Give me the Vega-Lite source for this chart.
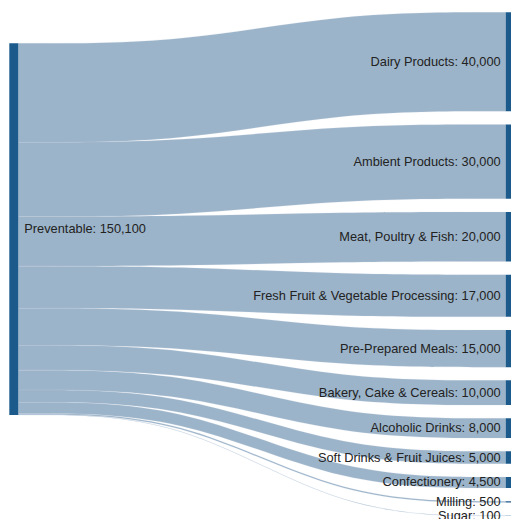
{
  "$schema": "https://vega.github.io/schema/vega-lite/v6.json",
  "width": 511,
  "height": 519,
  "padding": 0,
  "autosize": {"type": "none"},
  "config": {"view": {"stroke": null}},
  "data": {
    "values": [
      {"source": "Preventable", "target": "Dairy Products", "value": 40000},
      {"source": "Preventable", "target": "Ambient Products", "value": 30000},
      {"source": "Preventable", "target": "Meat, Poultry & Fish", "value": 20000},
      {"source": "Preventable", "target": "Fresh Fruit & Vegetable Processing", "value": 17000},
      {"source": "Preventable", "target": "Pre-Prepared Meals", "value": 15000},
      {"source": "Preventable", "target": "Bakery, Cake & Cereals", "value": 10000},
      {"source": "Preventable", "target": "Alcoholic Drinks", "value": 8000},
      {"source": "Preventable", "target": "Soft Drinks & Fruit Juices", "value": 5000},
      {"source": "Preventable", "target": "Confectionery", "value": 4500},
      {"source": "Preventable", "target": "Milling", "value": 500},
      {"source": "Preventable", "target": "Sugar", "value": 100}
    ]
  },
  "transform": [
    {"window": [{"op": "sum", "field": "value", "as": "cum"}, {"op": "row_number", "as": "idx"}], "sort": [{"field": "value", "order": "descending"}], "frame": [null, 0]},
    {"calculate": "datum.cum - datum.value + (datum.idx - 1) * 5330", "as": "t0"},
    {"calculate": "datum.cum + (datum.idx - 1) * 5330", "as": "t1"},
    {"calculate": "12520 + datum.cum - datum.value", "as": "s0"},
    {"calculate": "12520 + datum.cum", "as": "s1"}
  ],
  "layer": [
    {
      "transform": [
        {"calculate": "[0, 1, 2, 3]", "as": "k"},
        {"flatten": ["k"]},
        {"calculate": "datum.k / 3", "as": "px"},
        {"calculate": "datum.k < 2 ? datum.s0 : datum.t0", "as": "ylo"},
        {"calculate": "datum.k < 2 ? datum.s1 : datum.t1", "as": "yhi"}
      ],
      "mark": {"type": "area", "interpolate": "basis", "fill": "#9cb4c9", "fillOpacity": 1, "stroke": "#c4d3e0", "strokeWidth": 0.3, "strokeOpacity": 0.6},
      "encoding": {
        "x": {"field": "px", "type": "quantitative", "axis": null, "scale": {"domain": [-0.03755, 1.01087], "nice": false, "zero": false}},
        "y": {"field": "ylo", "type": "quantitative", "axis": null, "stack": null, "scale": {"domain": [-4968, 204645], "reverse": true, "nice": false, "zero": false}},
        "y2": {"field": "yhi"},
        "detail": {"field": "target", "type": "nominal"}
      }
    },
    {
      "transform": [
        {"calculate": "1", "as": "nx0"},
        {"calculate": "1.01847", "as": "nx1"}
      ],
      "mark": {"type": "rect", "color": "#1c5a8c"},
      "encoding": {
        "x": {"field": "nx0", "type": "quantitative"},
        "x2": {"field": "nx1"},
        "y": {"field": "t0", "type": "quantitative"},
        "y2": {"field": "t1"}
      }
    },
    {
      "transform": [
        {"aggregate": [{"op": "sum", "field": "value", "as": "total"}], "groupby": ["source"]},
        {"calculate": "12520", "as": "ly0"},
        {"calculate": "12520 + datum.total", "as": "ly1"},
        {"calculate": "-0.01847", "as": "lx0"},
        {"calculate": "0", "as": "lx1"}
      ],
      "mark": {"type": "rect", "color": "#1c5a8c"},
      "encoding": {
        "x": {"field": "lx0", "type": "quantitative"},
        "x2": {"field": "lx1"},
        "y": {"field": "ly0", "type": "quantitative"},
        "y2": {"field": "ly1"}
      }
    },
    {
      "transform": [
        {"calculate": "datum.target + ': ' + format(datum.value, ',')", "as": "label"},
        {"calculate": "(datum.t0 + datum.t1) / 2", "as": "ym"},
        {"calculate": "1", "as": "lx"}
      ],
      "mark": {"type": "text", "align": "right", "baseline": "middle", "dx": -5, "font": "Liberation Sans", "fontSize": 12.8, "color": "#222222"},
      "encoding": {
        "x": {"field": "lx", "type": "quantitative"},
        "y": {"field": "ym", "type": "quantitative"},
        "text": {"field": "label"}
      }
    },
    {
      "transform": [
        {"aggregate": [{"op": "sum", "field": "value", "as": "total"}], "groupby": ["source"]},
        {"calculate": "datum.source + ': ' + format(datum.total, ',')", "as": "label"},
        {"calculate": "12520 + datum.total / 2", "as": "ym"},
        {"calculate": "0", "as": "lx"}
      ],
      "mark": {"type": "text", "align": "left", "baseline": "middle", "dx": 6, "font": "Liberation Sans", "fontSize": 12.8, "color": "#222222"},
      "encoding": {
        "x": {"field": "lx", "type": "quantitative"},
        "y": {"field": "ym", "type": "quantitative"},
        "text": {"field": "label"}
      }
    }
  ]
}
